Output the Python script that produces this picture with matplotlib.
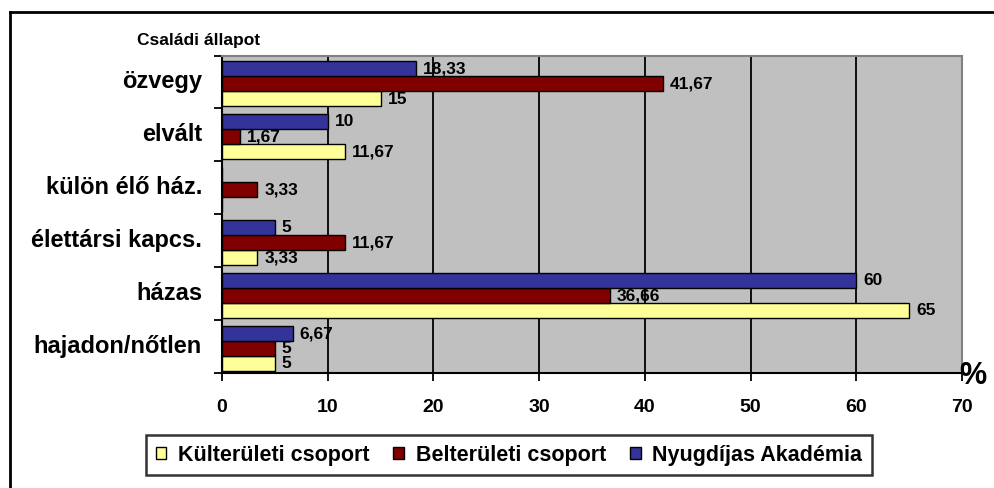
import matplotlib
matplotlib.use("Agg")
import matplotlib.pyplot as plt
from matplotlib.patches import Rectangle
from matplotlib.lines import Line2D
import numpy as np

plt.rcParams['font.family'] = ['Liberation Sans', 'DejaVu Sans']

categories = ["hajadon/nőtlen", "házas", "élettársi kapcs.", "külön élő ház.", "elvált", "özvegy"]
kulteruleti = [5, 65, 3.33, 0, 11.67, 15]
belteruleti = [5, 36.66, 11.67, 3.33, 1.67, 41.67]
nyugdijas = [6.67, 60, 5, 0, 10, 18.33]
series_names = ["Külterületi csoport", "Belterületi csoport", "Nyugdíjas Akadémia"]
series_colors = ["#FFFF99", "#800000", "#333399"]
xticks = [0, 10, 20, 30, 40, 50, 60, 70]

W, H = 995, 488
fig = plt.figure(figsize=(W / 100, H / 100), dpi=100)

# outer frame (top and left visible)
fig.add_artist(Line2D([9.5 / W, 9.5 / W], [0, 1 - 12 / H], transform=fig.transFigure, color="black", lw=2))
fig.add_artist(Line2D([9.5 / W, 1], [1 - 12 / H, 1 - 12 / H], transform=fig.transFigure, color="black", lw=2))

left, right, top, bottom = 222, 962, 55.5, 373
ax = fig.add_axes([left / W, 1 - bottom / H, (right - left) / W, (bottom - top) / H])
ax.set_facecolor("#C0C0C0")
ax.set_xlim(0, 70)
ax.set_ylim(-0.5, len(categories) - 0.5)

y = np.arange(len(categories))
bh = 0.285
series = [kulteruleti, belteruleti, nyugdijas]
offsets = [-bh, 0, bh]
for vals, col, off, name in zip(series, series_colors, offsets, series_names):
    ax.barh(y + off - 0.03, vals, height=bh, color=col, edgecolor="black", linewidth=1, zorder=3, label=name)
    for yi, v in zip(y, vals):
        if v > 0:
            ax.annotate(f"{v:g}".replace(".", ","), xy=(v, yi + off - 0.04), xytext=(5, 0),
                        textcoords="offset points", va="center", ha="left",
                        fontsize=12.5, fontweight="bold", zorder=5)

for xv in xticks[1:-1]:
    ax.axvline(xv, color="black", lw=1.3, zorder=1)

ax.set_xticks(xticks)
ax.set_xticklabels([str(t) for t in xticks], fontsize=14, fontweight="bold")
ax.set_yticks(np.arange(-0.5, len(categories), 1.0), minor=False)
ax.set_yticklabels([])
ax.tick_params(axis="y", length=6, width=1.3, direction="out")
ax.tick_params(axis="x", length=6, width=1.3, direction="out", pad=13)
for yi, c in zip(y, categories):
    ax.text(-20 / (right - left), yi, c, transform=ax.get_yaxis_transform(), ha="right", va="center",
            fontsize=17, fontweight="bold")

for s in ["top", "right"]:
    ax.spines[s].set_color("#808080")
    ax.spines[s].set_linewidth(1.5)
for s in ["left", "bottom"]:
    ax.spines[s].set_color("black")
    ax.spines[s].set_linewidth(1.5)

fig.text(137 / W, 1 - 41 / H, "Családi állapot", fontsize=12.5, fontweight="bold", va="center", ha="left")
fig.text(973 / W, 1 - 376 / H, "%", fontsize=22, fontweight="bold", va="center", ha="center")

handles = [Rectangle((0, 0), 1, 1, facecolor=c, edgecolor="black", lw=1) for c in series_colors]
leg = fig.legend(handles, series_names, loc="center", bbox_to_anchor=(509 / W, 1 - 455 / H),
                 ncol=3, frameon=True, fancybox=False, edgecolor="black",
                 prop={"weight": "bold", "size": 15.5}, handlelength=0.5, handleheight=0.5,
                 handletextpad=0.55, columnspacing=1.1, borderpad=0.45, borderaxespad=0)
leg.get_frame().set_linewidth(1.8)

fig.savefig("out.png", dpi=100)
